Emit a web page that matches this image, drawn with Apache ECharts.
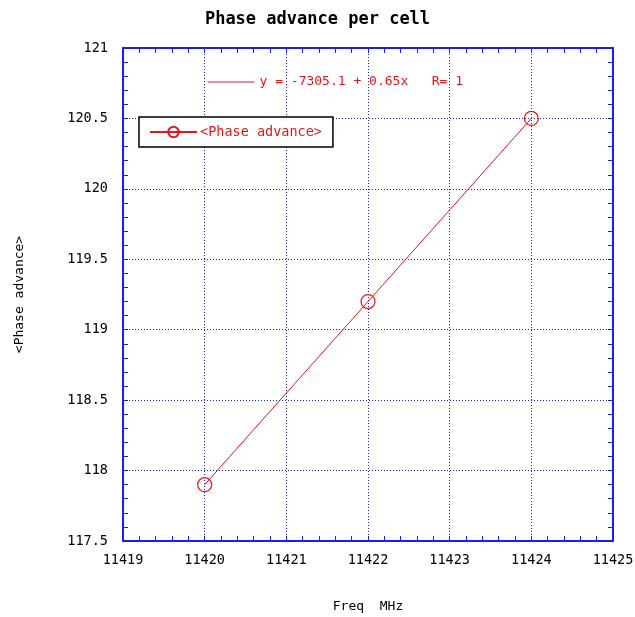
<!DOCTYPE html>
<html>
<head>
<meta charset="utf-8">
<script src="https://cdn.jsdelivr.net/npm/echarts@6/dist/echarts.min.js"></script>
<style>
  html, body { margin: 0; padding: 0; background: #ffffff; }
  #chart { width: 635px; height: 617px; }
</style>
</head>
<body>
<div id="chart"></div>
<script>
// Measured phase advance per cell versus drive frequency
const freqMHz = [11420, 11422, 11424];
const phaseAdvance = [117.9, 119.2, 120.5];
const seriesName = '<Phase advance>';

// Least-squares line through the points, shown as the fit annotation
function linearFit(xs, ys) {
  const n = xs.length;
  const mx = xs.reduce((a, b) => a + b, 0) / n;
  const my = ys.reduce((a, b) => a + b, 0) / n;
  let sxy = 0, sxx = 0, syy = 0;
  for (let i = 0; i < n; i++) {
    sxy += (xs[i] - mx) * (ys[i] - my);
    sxx += (xs[i] - mx) * (xs[i] - mx);
    syy += (ys[i] - my) * (ys[i] - my);
  }
  const slope = sxy / sxx;
  return { slope, intercept: my - slope * mx, r: sxy / Math.sqrt(sxx * syy) };
}
const fit = linearFit(freqMHz, phaseAdvance);
const fitText = 'y = ' + fit.intercept.toFixed(1) + ' + ' +
  (+fit.slope.toFixed(2)) + 'x   R= ' + (+fit.r.toFixed(3));

const AXIS_BLUE = '#1a1aff';
const RED = '#e8141a';
const FONT = '"DejaVu Sans Mono", monospace';

const chart = echarts.init(document.getElementById('chart'), null, { renderer: 'canvas' });

const tickStyle = { show: true, inside: true, length: 5, lineStyle: { color: AXIS_BLUE, width: 1 } };
const minorStyle = { show: true, splitNumber: 5, length: 5, lineStyle: { color: AXIS_BLUE, width: 1 } };
const gridLine = { show: true, lineStyle: { color: AXIS_BLUE, type: [1, 2], width: 1 } };

chart.setOption({
  animation: false,
  backgroundColor: '#ffffff',
  title: {
    text: 'Phase advance per cell',
    left: 'center',
    top: 6,
    textStyle: { fontFamily: FONT, fontSize: 17, fontWeight: 'bold', color: '#000' }
  },
  grid: { left: 123, right: 22, top: 48, bottom: 76, outerBoundsMode: 'none', containLabel: false },
  legend: {
    data: [seriesName],
    left: 139,
    top: 117,
    orient: 'vertical',
    backgroundColor: '#ffffff',
    borderColor: '#000000',
    borderWidth: 1.5,
    borderRadius: 0,
    padding: [8, 11, 8, 10],
    itemWidth: 47,
    itemHeight: 13,
    itemGap: 4,
    textStyle: { fontFamily: FONT, fontSize: 13.5, color: RED, padding: [0, 0, 0, -2] }
  },
  xAxis: [{
    type: 'value',
    min: 11419,
    max: 11425,
    interval: 1,
    name: 'Freq  MHz',
    nameLocation: 'middle',
    nameGap: 59,
    nameTextStyle: { fontFamily: FONT, fontSize: 13, color: '#000' },
    axisLine: { show: true, onZero: false, lineStyle: { color: AXIS_BLUE, width: 2 } },
    axisTick: tickStyle,
    minorTick: minorStyle,
    splitLine: gridLine,
    axisLabel: { fontFamily: FONT, fontSize: 13.5, color: '#000', margin: 12, formatter: v => String(v) }
  }, {
    type: 'value',
    position: 'top',
    min: 11419,
    max: 11425,
    interval: 1,
    axisLine: { show: true, onZero: false, lineStyle: { color: AXIS_BLUE, width: 2 } },
    axisTick: tickStyle,
    minorTick: minorStyle,
    splitLine: { show: false },
    axisLabel: { show: false }
  }],
  yAxis: [{
    type: 'value',
    min: 117.5,
    max: 121,
    interval: 0.5,
    name: '<Phase advance>',
    nameLocation: 'middle',
    nameGap: 97,
    nameRotate: 90,
    nameTextStyle: { fontFamily: FONT, fontSize: 13, color: '#000' },
    axisLine: { show: true, onZero: false, lineStyle: { color: AXIS_BLUE, width: 2 } },
    axisTick: tickStyle,
    minorTick: minorStyle,
    splitLine: gridLine,
    axisLabel: { fontFamily: FONT, fontSize: 13.5, color: '#000', margin: 15 }
  }, {
    type: 'value',
    position: 'right',
    min: 117.5,
    max: 121,
    interval: 0.5,
    axisLine: { show: true, onZero: false, lineStyle: { color: AXIS_BLUE, width: 2 } },
    axisTick: tickStyle,
    minorTick: minorStyle,
    splitLine: { show: false },
    axisLabel: { show: false }
  }],
  graphic: [{
    type: 'group',
    left: 205,
    top: 75,
    children: [{
      type: 'line',
      shape: { x1: 0, y1: 7, x2: 47, y2: 7 },
      style: { stroke: RED, lineWidth: 1 }
    }, {
      type: 'text',
      x: 52,
      y: 0,
      style: { text: fitText, fill: RED, font: '13px ' + FONT }
    }]
  }],
  series: [{
    name: seriesName,
    type: 'line',
    data: freqMHz.map((f, i) => [f, phaseAdvance[i]]),
    symbol: 'circle',
    symbolSize: 14,
    lineStyle: { color: RED, width: 1 },
    itemStyle: { color: 'rgba(0,0,0,0)', borderColor: RED, borderWidth: 1.2 }
  }]
});
</script>
</body>
</html>
